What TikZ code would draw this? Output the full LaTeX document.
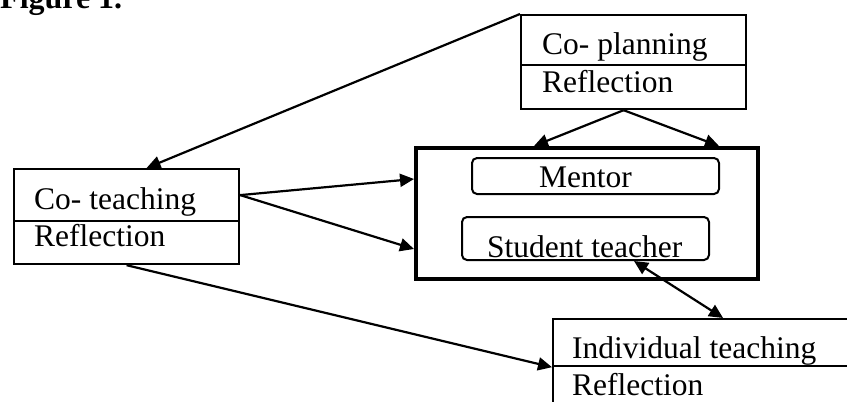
\documentclass[tikz,border=0pt]{standalone}
\usepackage{fontspec}
\setmainfont{Liberation Serif}
\usetikzlibrary{arrows.meta}

\tikzset{
  part/.style={draw, line width=2.2pt, anchor=north west, inner sep=0pt},
  inbox/.style={draw, line width=2pt, rounded corners=5pt, anchor=north west, inner sep=0pt},
  lbl/.style={anchor=base west, inner sep=0pt, font=\fontsize{31.5}{36}\selectfont},
  arr/.style={line width=2.2pt, -{Triangle[length=14pt,width=13pt]}},
  dblarr/.style={line width=2.2pt, {Triangle[length=14pt,width=13pt]}-{Triangle[length=14pt,width=13pt]}},
}

\begin{document}
\begin{tikzpicture}[x=1pt,y=-1pt]
  \clip (0,0) rectangle (847,402);

  \node[lbl, font=\fontsize{32}{36}\selectfont\bfseries] (fig) at (0,8) {Figure 1.};

  % co-planning
  \node[part, minimum width=225pt, minimum height=50pt] (plan1) at (520,14) {};
  \node[part, minimum width=225pt, minimum height=44pt] (plan2) at (520,64) {};
  \node[lbl] (plantxt) at (542,54) {Co- planning};
  \node[lbl] (planref) at (542,92) {Reflection};

  % co-teaching
  \node[part, minimum width=225pt, minimum height=52pt] (teach1) at (13,168) {};
  \node[part, minimum width=225pt, minimum height=43pt] (teach2) at (13,220) {};
  \node[lbl] (teachtxt) at (34,209) {Co- teaching};
  \node[lbl] (teachref) at (34,246) {Reflection};

  % mentor and student teacher
  \node[part, line width=4pt, minimum width=342pt, minimum height=131pt] (pair) at (414,146) {};
  \node[inbox, minimum width=247pt, minimum height=36pt] (mentor) at (471,157) {};
  \node[inbox, minimum width=247pt, minimum height=43pt] (student) at (461,216) {};
  \node[lbl] (mentortxt) at (539,187) {Mentor};
  \node[lbl] (studenttxt) at (487,257) {Student teacher};

  % individual teaching
  \node[part, minimum width=320pt, minimum height=47pt] (indiv1) at (552,318) {};
  \node[part, minimum width=320pt, minimum height=60pt] (indiv2) at (552,365) {};
  \node[lbl] (indivtxt) at (572,358) {Individual teaching};
  \node[lbl] (indivref) at (572,395) {Reflection};

  \draw[arr] (plan1.north west) -- ([xshift=20pt]teach1.north);
  \draw[arr] ([xshift=-10pt]plan2.south) -- ([xshift=-53pt]pair.north);
  \draw[arr] ([xshift=-10pt]plan2.south) -- ([xshift=132pt]pair.north);
  \draw[arr] (teach1.east) -- ([yshift=34.5pt]pair.west);
  \draw[arr] (teach1.east) -- ([yshift=-35.5pt]pair.west);
  \draw[arr] (teach2.south) -- (indiv1.south west);
  \draw[dblarr] ([xshift=48.5pt]student.south) -- ([xshift=10pt]indiv1.north);
\end{tikzpicture}
\end{document}
